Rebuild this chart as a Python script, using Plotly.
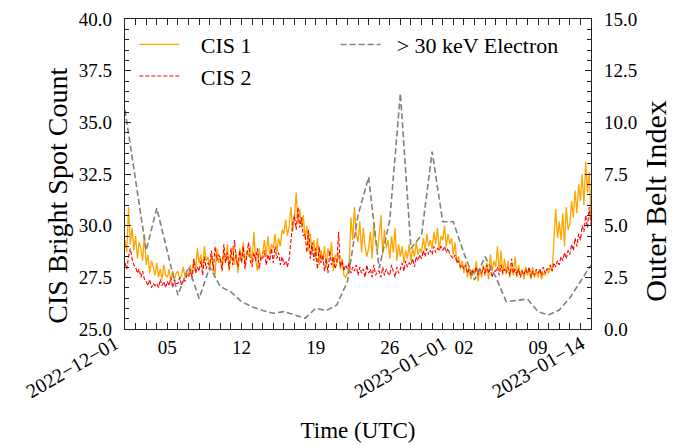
import pandas as pd
import plotly.graph_objects as go

# ---- data (4-hourly CIS counts, daily electron index) ----
cis1 = [
    29.3, 28.7, 30.9, 29.1, 29.9, 28.8,  29.5, 28.4, 29.2, 28.9, 28.3, 29.6,
    28.1, 28.6, 27.7, 28.3, 28.0, 27.6,  28.2, 27.5, 27.9, 27.4, 28.1, 27.6,
    27.5, 27.9, 27.3, 27.8, 27.4, 27.7,  27.8, 27.4, 27.6, 28.0, 27.5, 27.7,
    27.6, 28.1, 27.5, 28.4, 27.8, 28.9,  28.2, 28.6, 27.9, 29.0, 28.3, 28.5,
    27.8, 28.7, 28.1, 27.6, 28.9, 28.2,  28.5, 27.9, 28.8, 28.2, 29.1, 27.8,
    28.6, 29.0, 28.1, 28.7, 27.7, 28.9,  28.3, 29.2, 28.0, 28.8, 28.5, 29.0,
    28.1, 29.7, 28.4, 27.8, 28.9, 28.3,  28.7, 29.3, 28.5, 29.5, 28.6, 29.1,
    28.9, 29.6, 28.7, 29.4, 29.0, 29.8,  29.6, 30.3, 29.5, 30.0, 30.9, 29.7,
    30.4, 31.6, 30.1, 30.8, 29.9, 30.5,  29.4, 30.0, 28.8, 29.6, 28.6, 29.3,
    28.4, 29.4, 28.1, 28.8, 28.3, 29.0,  28.0, 28.9, 28.5, 29.2, 27.8, 28.6,
    28.2, 28.7, 27.9, 28.4, 27.6, 27.5,  27.7, 28.1, 30.4, 29.3, 30.9, 29.6,
    29.2, 30.2, 28.7, 29.9, 29.0, 28.5,  28.9, 29.7, 28.4, 30.1, 29.2, 28.8,
    29.5, 30.5, 28.6, 29.8, 28.9, 29.3,  28.4, 29.5, 28.7, 29.9, 28.3, 29.1,
    28.5, 29.0, 28.2, 28.8, 28.4, 29.1,  28.3, 28.9, 28.5, 29.2, 28.6, 28.9,
    28.7, 29.4, 28.8, 29.6, 29.0, 29.3,  28.9, 29.7, 29.1, 29.9, 28.8, 29.5,
    29.3, 30.0, 29.0, 29.6, 29.1, 29.4,  28.6, 29.2, 28.2, 28.5, 27.9, 28.3,
    27.7, 28.2, 27.5, 28.0, 27.4, 27.9,  27.6, 28.3, 27.3, 27.9, 27.5, 28.1,
    27.7, 28.2, 27.4, 28.6, 27.8, 28.3,  28.0, 29.0, 27.8, 28.8, 27.6, 28.4,
    27.7, 28.3, 27.5, 28.0, 27.6, 28.5,  27.5, 28.1, 27.6, 27.9, 27.4, 28.0,
    27.6, 27.9, 27.4, 28.0, 27.5, 27.8,  27.5, 27.9, 27.4, 27.7, 27.6, 27.9,
    27.7, 28.0, 27.8, 29.6, 30.8, 29.4,  30.2, 29.3, 30.6, 29.0, 30.9, 29.8,
    30.1, 31.2, 30.4, 31.7, 30.6, 32.0,  31.2, 32.5, 31.0, 33.1, 31.6, 32.6,
    30.2,
]
cis2 = [
    28.2, 27.9, 28.5, 28.9, 28.4, 28.1,  28.0, 27.7, 27.9, 27.5, 27.8, 27.4,
    27.3, 27.1, 27.4, 27.0, 27.2, 27.1,  27.2, 27.0, 27.4, 27.1, 27.3, 27.0,
    27.3, 27.1, 27.5, 27.0, 27.4, 27.2,  27.2, 27.5, 27.1, 27.4, 27.3, 27.6,
    27.5, 27.9, 27.4, 28.4, 27.7, 28.0,  27.8, 28.3, 27.6, 28.5, 27.9, 28.2,
    28.1, 28.8, 27.8, 29.0, 28.3, 28.6,  28.4, 27.8, 29.1, 28.2, 28.7, 27.9,
    28.9, 28.1, 29.3, 28.4, 28.0, 28.8,  28.2, 29.0, 27.9, 28.6, 29.2, 28.3,
    28.0, 28.7, 28.3, 28.9, 27.9, 28.5,  28.4, 28.8, 28.1, 28.6, 28.3, 28.9,
    28.2, 29.0, 28.4, 28.7, 28.1, 28.5,  28.1, 28.3, 28.0, 28.4, 29.2, 30.1,
    30.5, 29.8, 30.9, 29.9, 30.4, 29.5,  29.6, 28.7, 29.8, 28.4, 29.2, 28.3,
    28.9, 27.9, 29.0, 28.2, 28.6, 27.8,  28.4, 27.7, 28.8, 28.1, 28.5, 27.9,
    28.2, 29.7, 28.0, 28.3, 27.8, 28.1,  27.9, 28.2, 27.7, 28.0, 27.8, 28.1,
    27.6, 28.0, 27.7, 27.9, 27.5, 28.1,  27.7, 27.9, 27.5, 28.1, 27.6, 27.8,
    27.8, 27.5, 28.0, 27.6, 27.9, 27.7,  27.6, 28.1, 27.8, 27.5, 28.0, 27.7,
    27.9, 28.2, 27.8, 28.3, 28.0, 28.2,  28.1, 28.4, 28.0, 28.5, 28.3, 28.6,
    28.4, 28.8, 28.5, 28.9, 28.6, 28.8,  28.6, 29.0, 28.7, 28.9, 28.8, 29.0,
    28.8, 29.0, 28.7, 28.9, 28.6, 28.5,  28.4, 28.6, 28.2, 28.3, 28.0, 28.1,
    27.9, 28.1, 27.7, 27.9, 27.6, 27.8,  27.7, 28.0, 27.6, 27.9, 27.7, 28.0,
    27.6, 28.1, 27.7, 27.9, 27.5, 27.8,  27.8, 28.0, 27.6, 28.1, 27.7, 27.9,
    27.7, 28.0, 27.6, 28.4, 27.7, 27.9,  27.6, 27.9, 27.5, 27.8, 27.6, 27.9,
    27.7, 28.0, 27.5, 27.8, 27.6, 27.9,  27.7, 27.9, 27.6, 28.0, 27.7, 27.9,
    27.9, 28.1, 27.8, 28.2, 28.0, 28.3,  28.1, 28.5, 28.3, 28.7, 28.4, 28.8,
    28.6, 29.1, 28.8, 29.4, 29.0, 29.6,  29.3, 30.0, 29.7, 30.5, 29.9, 30.9,
    30.0,
]
electron = [
    10.6, 7.2, 3.8, 5.85, 3.7, 1.64, 3.0, 1.48, 3.0, 2.05,
    1.8, 1.32, 1.08, 0.9, 0.76, 0.84, 0.68, 0.52, 1.0, 0.89,
    1.16, 2.3, 5.5, 7.35, 2.94, 5.27, 11.4, 3.9, 4.55, 8.58,
    5.19, 5.19, 3.66, 2.37, 3.5, 2.53, 1.32, 1.4, 1.45, 0.84,
    0.68, 0.92, 1.5, 2.3, 3.1,
]
cis_times = pd.date_range("2022-12-01", periods=len(cis1), freq="4h")
elec_times = pd.date_range("2022-12-01", periods=len(electron), freq="D")

day_ticks = ["2022-12-05", "2022-12-12", "2022-12-19", "2022-12-26",
             "2023-01-02", "2023-01-09"]
day_labels = ["05", "12", "19", "26", "02", "09"]
full_ticks = ["2022-12-01", "2023-01-01", "2023-01-14"]
full_labels = ["2022\u221212\u221201", "2023\u221201\u221201", "2023\u221201\u221214"]
x_range = ["2022-12-01", "2023-01-14"]

FONT = "Liberation Serif"
AX = "#222222"
NB = "\u00a0"

fig = go.Figure()
fig.add_trace(go.Scatter(x=cis_times, y=cis1, name=NB * 3 + "CIS 1", mode="lines",
                         line=dict(color="#FFA500", width=1.3), legend="legend"))
fig.add_trace(go.Scatter(x=cis_times, y=cis2, name=NB * 3 + "CIS 2", mode="lines",
                         line=dict(color="#FF0000", width=1.1, dash="4px,2px"),
                         legend="legend"))
fig.add_trace(go.Scatter(x=elec_times, y=electron, name=NB * 2 + "> 30 keV Electron",
                         mode="lines", yaxis="y2",
                         line=dict(color="#808080", width=1.6, dash="6px,3px"),
                         legend="legend2"))

minor_days = [str(d.date()) for d in pd.date_range(x_range[0], x_range[1], freq="D")]

fig.update_layout(
    width=677, height=445,
    margin=dict(l=125, r=86, t=19, b=116),
    paper_bgcolor="white", plot_bgcolor="white",
    font=dict(family=FONT, size=19, color="black"),
    xaxis=dict(
        type="date", range=x_range,
        tickmode="array", tickvals=day_ticks + full_ticks,
        ticktext=day_labels + ["", "", ""],
        ticks="inside", ticklen=6, tickwidth=1, tickcolor=AX,
        showline=True, linecolor=AX, linewidth=1.2, mirror="allticks",
        showgrid=False, zeroline=False, tickangle=0,
        ticklabelstandoff=1,
        minor=dict(tickmode="array", tickvals=minor_days, ticks="inside",
                   ticklen=3.5, tickwidth=1, tickcolor=AX, showgrid=False),
        title=dict(text="Time (UTC)", font=dict(size=23), standoff=64),
        automargin=False,
    ),
    yaxis=dict(
        range=[25, 40], tickmode="array",
        tickvals=[25, 27.5, 30, 32.5, 35, 37.5, 40],
        ticktext=["25.0", "27.5", "30.0", "32.5", "35.0", "37.5", "40.0"],
        ticks="inside", ticklen=6, tickwidth=1, tickcolor=AX,
        showline=True, linecolor=AX, linewidth=1.2,
        showgrid=False, zeroline=False, ticklabelstandoff=8,
        minor=dict(dtick=0.5, tick0=25, ticks="inside", ticklen=3.5,
                   tickwidth=1, tickcolor=AX, showgrid=False),
        automargin=False,
    ),
    yaxis2=dict(
        range=[0, 15], overlaying="y", side="right", tickmode="array",
        tickvals=[0, 2.5, 5, 7.5, 10, 12.5, 15],
        ticktext=["0.0", "2.5", "5.0", "7.5", "10.0", "12.5", "15.0"],
        ticks="inside", ticklen=6, tickwidth=1, tickcolor=AX,
        showline=True, linecolor=AX, linewidth=1.2,
        showgrid=False, zeroline=False, ticklabelstandoff=8,
        minor=dict(dtick=0.5, tick0=0, ticks="inside", ticklen=3.5,
                   tickwidth=1, tickcolor=AX, showgrid=False),
        automargin=False,
    ),
    legend=dict(x=0.02, y=0.985, xanchor="left", yanchor="top",
                bgcolor="rgba(0,0,0,0)", font=dict(size=22),
                itemwidth=40, tracegroupgap=0),
    legend2=dict(x=0.452, y=0.985, xanchor="left", yanchor="top",
                 bgcolor="rgba(0,0,0,0)", font=dict(size=22), itemwidth=40),
    showlegend=True,
)

# axis titles (placed as in the reference)
fig.add_annotation(x=-0.1436, y=0.43, xref="paper", yref="paper",
                   text="CIS Bright Spot Count", textangle=-90, showarrow=False,
                   xanchor="center", yanchor="middle", font=dict(size=28))
fig.add_annotation(x=1.1383, y=0.415, xref="paper", yref="paper",
                   text="Outer Belt Index", textangle=-90, showarrow=False,
                   xanchor="center", yanchor="middle", font=dict(size=30))

for t, lab in zip(full_ticks, full_labels):
    fig.add_annotation(x=t, y=0, xref="x", yref="paper", text=lab,
                       showarrow=False, textangle=-30, xanchor="right",
                       yanchor="top", yshift=0, font=dict(size=20))

fig.write_html("out.html", config={"displayModeBar": False},
               post_script="document.body.style.margin='0';"
                           "document.body.style.overflow='hidden';")
